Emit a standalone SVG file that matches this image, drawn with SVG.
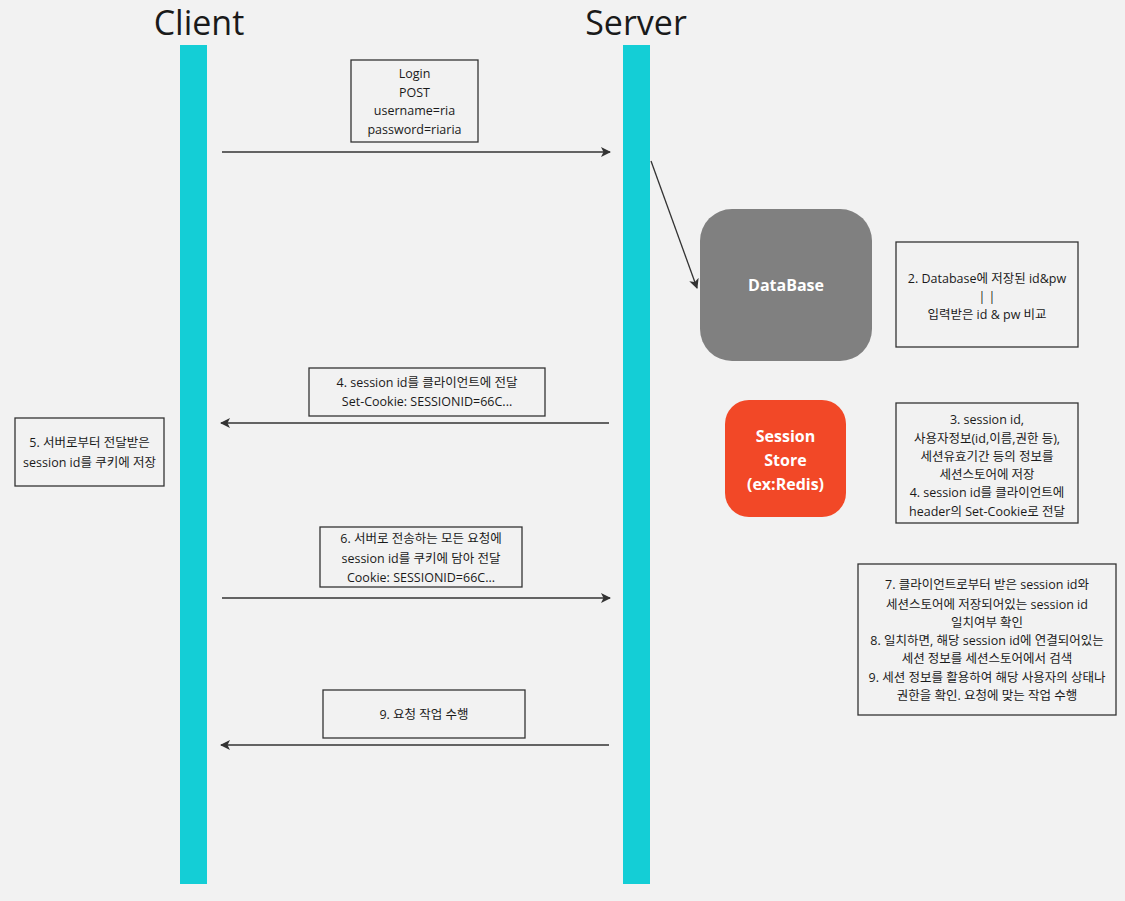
<svg xmlns="http://www.w3.org/2000/svg" width="1125" height="901" viewBox="0 0 1125 901">
<defs>
<style>
.t{font-family:"Open Sans","Noto Sans CJK KR","Noto Sans",sans-serif;font-size:12.5px;fill:#1a1a1a;text-anchor:middle}
.h{font-family:"Open Sans","Noto Sans",sans-serif;font-size:34px;fill:#1a1a1a;text-anchor:middle}
.w{font-family:"Open Sans","Noto Sans",sans-serif;font-weight:bold;fill:#fff;text-anchor:middle}
.box{fill:#f2f2f2;stroke:#333;stroke-width:1.3}
.life{fill:#14ced6}
.c{stroke:#333;stroke-width:1.3;fill:none;marker-end:url(#ah)}
</style>
<marker id="ah" viewBox="0 0 10 10" refX="9" refY="5" markerWidth="10" markerHeight="10" markerUnits="userSpaceOnUse" orient="auto">
<path d="M0,0 L10,5 L0,10 L2.5,5 z" fill="#333"/>
</marker>
</defs>
<rect width="1125" height="901" fill="#f2f2f2"/>

<g id="client">
<text class="h" x="199" y="35">Client</text>
<rect class="life" x="180" y="45" width="27" height="839"/>
</g>
<g id="server">
<text class="h" x="636" y="35">Server</text>
<rect class="life" x="623" y="45" width="27" height="839"/>
</g>

<g id="connectors">
<line class="c" x1="222" y1="152" x2="610" y2="152"/>
<line class="c" x1="651" y1="161" x2="697" y2="288"/>
<line class="c" x1="609" y1="423" x2="221" y2="423"/>
<line class="c" x1="222" y1="598" x2="610" y2="598"/>
<line class="c" x1="609" y1="745" x2="221" y2="745"/>
</g>

<g id="login">
<rect class="box" x="351" y="60" width="127" height="82"/>
<text class="t" x="414.5" y="78">Login</text>
<text class="t" x="414.5" y="97">POST</text>
<text class="t" x="414.5" y="115">username=ria</text>
<text class="t" x="414.5" y="134">password=riaria</text>
</g>

<g id="database">
<rect x="700" y="209" width="172" height="152" rx="32" fill="#808080"/>
<text class="w" x="786" y="291" font-size="16">DataBase</text>
</g>

<g id="note2">
<rect class="box" x="896" y="242" width="182" height="105"/>
<text class="t" x="987" y="283">2. Database에 저장된 id&amp;pw</text>
<text class="t" x="987" y="301">| |</text>
<text class="t" x="987" y="319">입력받은 id &amp; pw 비교</text>
</g>

<g id="msg4">
<rect class="box" x="309" y="368" width="236" height="48"/>
<text class="t" x="427" y="387">4. session id를 클라이언트에 전달</text>
<text class="t" x="427" y="406">Set-Cookie: SESSIONID=66C...</text>
</g>

<g id="note5">
<rect class="box" x="15" y="418" width="149" height="68"/>
<text class="t" x="89.5" y="447">5. 서버로부터 전달받은</text>
<text class="t" x="89.5" y="467">session id를 쿠키에 저장</text>
</g>

<g id="sessionstore">
<rect x="725" y="400" width="121" height="117" rx="24" fill="#f24827"/>
<text class="w" x="785.5" y="442" font-size="16">Session</text>
<text class="w" x="785.5" y="466" font-size="16">Store</text>
<text class="w" x="785.5" y="490" font-size="16">(ex:Redis)</text>
</g>

<g id="note3">
<rect class="box" x="896" y="403" width="182" height="120"/>
<text class="t" x="987" y="424">3. session id,</text>
<text class="t" x="987" y="443">사용자정보(id,이름,권한 등),</text>
<text class="t" x="987" y="461">세션유효기간 등의 정보를</text>
<text class="t" x="987" y="479">세션스토어에 저장</text>
<text class="t" x="987" y="497">4. session id를 클라이언트에</text>
<text class="t" x="987" y="516">header의 Set-Cookie로 전달</text>
</g>

<g id="msg6">
<rect class="box" x="320" y="527" width="202" height="60"/>
<text class="t" x="421" y="543">6. 서버로 전송하는 모든 요청에</text>
<text class="t" x="421" y="563">session id를 쿠키에 담아 전달</text>
<text class="t" x="421" y="582">Cookie: SESSIONID=66C...</text>
</g>

<g id="note7">
<rect class="box" x="858" y="564" width="258" height="151"/>
<text class="t" x="987" y="589">7. 클라이언트로부터 받은 session id와</text>
<text class="t" x="987" y="609">세션스토어에 저장되어있는 session id</text>
<text class="t" x="987" y="627">일치여부 확인</text>
<text class="t" x="987" y="645">8. 일치하면, 해당 session id에 연결되어있는</text>
<text class="t" x="987" y="663">세션 정보를 세션스토어에서 검색</text>
<text class="t" x="987" y="682">9. 세션 정보를 활용하여 해당 사용자의 상태나</text>
<text class="t" x="987" y="700">권한을 확인. 요청에 맞는 작업 수행</text>
</g>

<g id="msg9">
<rect class="box" x="323" y="690" width="202" height="48"/>
<text class="t" x="424" y="719">9. 요청 작업 수행</text>
</g>
</svg>
